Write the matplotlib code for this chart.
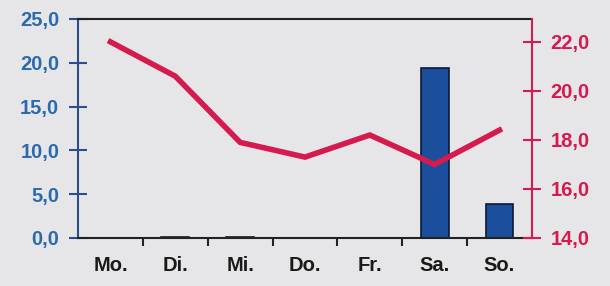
import matplotlib
matplotlib.use("Agg")
import matplotlib.pyplot as plt
from matplotlib.ticker import FuncFormatter, FixedLocator

days = ["Mo.", "Di.", "Mi.", "Do.", "Fr.", "Sa.", "So."]
bar_values = [0.0, 0.1, 0.1, 0.0, 0.0, 19.4, 3.9]
line_values = [22.0, 20.6, 17.9, 17.3, 18.2, 17.0, 18.4]
left_ticks = [0, 5, 10, 15, 20, 25]
right_ticks = [14, 16, 18, 20, 22]

bg = "#e6e6e8"
blue_lbl = "#2a6aae"
red = "#d41a4e"

plt.rcParams['font.family'] = ['Liberation Sans', 'DejaVu Sans']

fig = plt.figure(figsize=(6.1, 2.86), dpi=100)
fig.patch.set_facecolor(bg)
ax = fig.add_axes([0.128, 0.168, 0.744, 0.766])
ax.set_facecolor(bg)

x = list(range(len(days)))
ax.bar(x, bar_values, width=0.43, color="#1b4f9e", edgecolor="#0d1a33", linewidth=1.2, zorder=2)
ax.set_xlim(-0.5, 6.5)
ax.set_ylim(0, 25)
ax.set_yticks(left_ticks)
fmt = FuncFormatter(lambda v, p: f"{v:.1f}".replace(".", ","))
ax.yaxis.set_major_formatter(fmt)
ax.tick_params(axis="y", direction="inout", length=13, width=1.5, colors="#2a4f8a",
               labelcolor=blue_lbl, labelsize=14.5, pad=7)
for t in ax.get_yticklabels():
    t.set_fontweight("bold")

ax.xaxis.set_major_locator(FixedLocator([i + 0.5 for i in range(6)]))
ax.set_xticks(x, minor=True)
ax.set_xticklabels(days, minor=True, fontsize=14.5, fontweight="bold", color="#1a1a1a")
ax.tick_params(axis="x", which="major", direction="out", length=6, width=1.5, colors="#222222",
               labelbottom=False)
ax.tick_params(axis="x", which="minor", length=0, pad=13)

ax.spines["left"].set_color("#2a4f8a")
ax.spines["left"].set_linewidth(1.5)
ax.spines["bottom"].set_color("#222222")
ax.spines["bottom"].set_linewidth(1.5)
ax.spines["top"].set_color("#222222")
ax.spines["top"].set_linewidth(1.5)
ax.spines["right"].set_visible(False)

ax2 = ax.twinx()
ax2.plot(x, line_values, color=red, linewidth=4, solid_joinstyle="miter", zorder=3)
ax2.set_ylim(14, 22.94)
ax2.set_yticks(right_ticks)
ax2.yaxis.set_major_formatter(fmt)
ax2.tick_params(axis="y", direction="inout", length=13, width=1.5, colors=red,
                labelcolor=red, labelsize=14.5, pad=7)
for t in ax2.get_yticklabels():
    t.set_fontweight("bold")
for s in ["left", "top", "bottom"]:
    ax2.spines[s].set_visible(False)
ax2.spines["right"].set_color(red)
ax2.spines["right"].set_linewidth(1.5)

fig.savefig("out.png", dpi=100, facecolor=bg)
